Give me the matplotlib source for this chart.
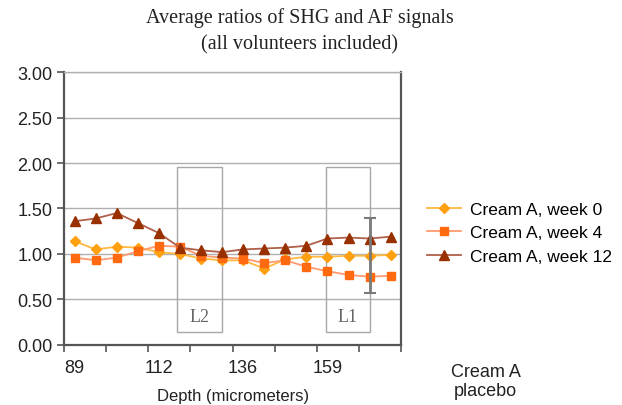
import matplotlib
matplotlib.use("Agg")
import matplotlib.pyplot as plt
from matplotlib.patches import Rectangle

# ==========================================================
# DATA
# ==========================================================

depth_labels = ["89", "112", "136", "159"]
label_positions = [0, 4, 8, 12]

week0 = [1.14, 1.05, 1.08, 1.07, 1.02, 1.00, 0.95, 0.93,
         0.93, 0.84, 0.94, 0.97, 0.97, 0.98, 0.98, 0.99]
week4 = [0.96, 0.93, 0.96, 1.03, 1.09, 1.08, 0.98, 0.96,
         0.95, 0.90, 0.93, 0.86, 0.81, 0.77, 0.75, 0.76]
week12 = [1.36, 1.39, 1.45, 1.34, 1.23, 1.07, 1.04, 1.02,
          1.05, 1.06, 1.07, 1.09, 1.17, 1.18, 1.17, 1.19]

err_index = 14
err_size = 0.41

# (x start, x end, label)
regions = [(4.87, 6.98, "L2"), (11.93, 14.02, "L1")]
region_bottom = 0.14
region_top = 1.96

x = list(range(len(week0)))

# ==========================================================
# FIGURE
# ==========================================================

plt.rcParams["font.family"] = ["Liberation Sans", "DejaVu Sans"]

fig = plt.figure(figsize=(6.22, 4.06), dpi=100)
ax = fig.add_axes([0.103, 0.148, 0.542, 0.672])

text_col = "#222222"

ax.set_ylim(0, 3)
ax.set_xlim(-0.5, len(x) - 0.5)

ax.set_yticks([0, 0.5, 1.0, 1.5, 2.0, 2.5, 3.0])
ax.set_yticklabels([f"{v:.2f}" for v in ax.get_yticks()],
                   fontsize=13, color=text_col)
ax.yaxis.grid(True, color="#b0b0b0", linewidth=1.0)
ax.set_axisbelow(True)

# tick marks between every second category, labels every fourth
ax.set_xticks([i - 0.5 for i in range(0, len(x) + 1, 2)])
ax.set_xticklabels([])
ax.set_xticks(label_positions, minor=True)
ax.set_xticklabels(depth_labels, minor=True, fontsize=13, color=text_col)
ax.tick_params(axis="x", which="minor", length=0, pad=10)
ax.tick_params(axis="x", which="major", length=5, width=1.2,
               color="#555555", direction="out")
ax.tick_params(axis="y", length=5, width=1.2, color="#555555")

for side in ["left", "bottom", "right"]:
    ax.spines[side].set_color("#555555")
    ax.spines[side].set_linewidth(1.6)
ax.spines["top"].set_color("#b0b0b0")
ax.spines["top"].set_linewidth(1.0)

# L2 / L1 boxes
for x0, x1, name in regions:
    ax.add_patch(Rectangle((x0, region_bottom), x1 - x0,
                           region_top - region_bottom,
                           fill=False, edgecolor="#a8a8a8",
                           linewidth=1.0, zorder=1))
    ax.text((x0 + x1) / 2, 0.31, name, ha="center", va="center",
            fontsize=13, family="Liberation Serif", color="#666666")

# error bar
ax.errorbar(err_index, week0[err_index], yerr=err_size,
            fmt="none", ecolor="#7a7a7a", elinewidth=2.0,
            capsize=4, capthick=1.5, zorder=5)

ax.plot(x, week0, color="#FFB940", linewidth=1.3,
        marker="D", markersize=5, markerfacecolor="#FFA010",
        markeredgecolor="#FFA010", label="Cream A, week 0", zorder=3)
ax.plot(x, week4, color="#FF9A70", linewidth=1.3,
        marker="s", markersize=5.5, markerfacecolor="#FF6A10",
        markeredgecolor="#FF6A10", label="Cream A, week 4", zorder=3)
ax.plot(x, week12, color="#B0604A", linewidth=1.3,
        marker="^", markersize=7, markerfacecolor="#993000",
        markeredgecolor="#993000", label="Cream A, week 12", zorder=4)

ax.set_xlabel("Depth (micrometers)", fontsize=12, color=text_col,
              labelpad=9)

# title, two lines
fig.text(0.482, 0.956, "Average ratios of SHG and AF signals",
         ha="center", va="center", fontsize=14.5,
         family="Liberation Serif", color=text_col)
fig.text(0.482, 0.889, "(all volunteers included)",
         ha="center", va="center", fontsize=14.5,
         family="Liberation Serif", color=text_col)

fig.legend(loc="center left", bbox_to_anchor=(0.661, 0.424),
           frameon=False, handlelength=2.0, handletextpad=0.5,
           labelspacing=0.5, prop={"family": "Liberation Sans", "size": 12.5})

fig.text(0.781, 0.059, "Cream A\nplacebo", ha="center", va="center",
         fontsize=13, color=text_col, linespacing=1.2)

plt.savefig("out.png", dpi=100)
